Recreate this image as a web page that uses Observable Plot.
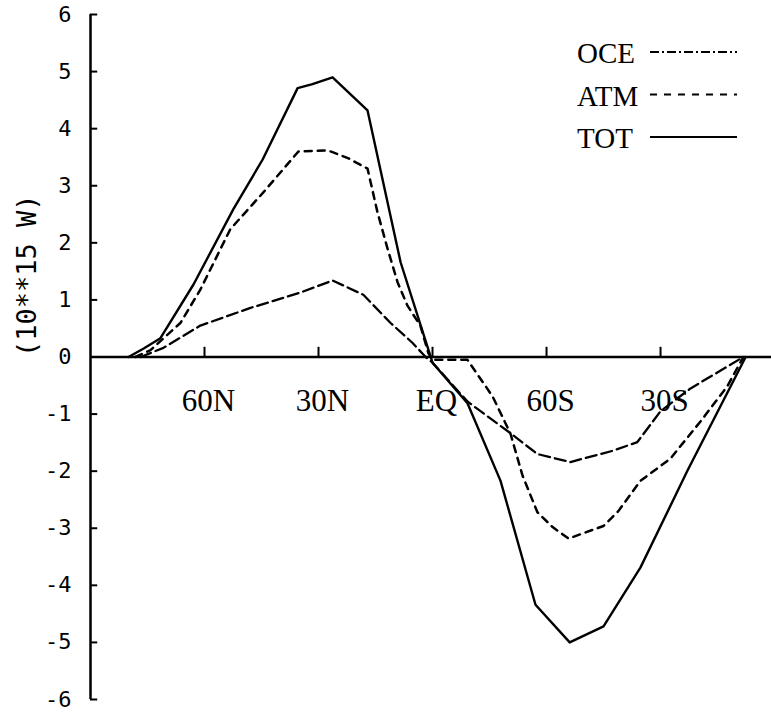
<!DOCTYPE html>
<html>
<head>
<meta charset="utf-8">
<script src="https://cdn.jsdelivr.net/npm/d3@7"></script>
<script src="https://cdn.jsdelivr.net/npm/@observablehq/plot@0.6"></script>
<style>
  html, body { margin: 0; padding: 0; background: #fff; }
  #wrap { position: relative; width: 771px; height: 715px; background: #fff; }
  #legend { position: absolute; left: 0; top: 0; }
</style>
</head>
<body>
<div id="wrap"></div>
<script>
// ---- data (latitude in degrees, + = north; values in 10**15 W) ----
const xDomain = [90, -89.2];
const xTickLats = [60, 30, 0, -30, -60];
const xTickLabels = ["60N", "30N", "EQ", "60S", "30S"];
const yTicks = [-6, -5, -4, -3, -2, -1, 0, 1, 2, 3, 4, 5, 6];
const yLabel = "(10**15 W)";

const totLat = [80.0, 76.0, 71.6, 62.9, 52.4, 44.7, 35.5, 31.6, 26.3, 17.1, 8.4, 0.0, -9.2, -17.9, -27.1, -36.1, -45.0, -54.7, -67.1, -82.4];
const totVal = [0, 0.15, 0.33, 1.27, 2.59, 3.46, 4.71, 4.78, 4.90, 4.32, 1.66, -0.1, -0.81, -2.17, -4.34, -5.0, -4.72, -3.69, -1.99, 0];

const atmLat = [78.2, 74.2, 66.3, 61.1, 53.2, 44.7, 35.3, 27.6, 22.1, 17.1, 14.5, 11.8, 9.2, 6.6, 3.2, 1.1, 0.0, -9.2, -15.8, -20.5, -23.7, -27.6, -31.6, -35.8, -45.0, -48.9, -54.7, -62.6, -70.5, -77.6, -81.8];
const atmVal = [0, 0.12, 0.6, 1.18, 2.24, 2.87, 3.6, 3.62, 3.48, 3.30, 2.54, 1.89, 1.31, 0.9, 0.55, 0.07, -0.05, -0.05, -0.69, -1.34, -2.08, -2.72, -2.98, -3.18, -2.96, -2.7, -2.17, -1.78, -1.13, -0.51, 0];

const oceLat = [76.8, 70.8, 61.1, 47.9, 34.7, 26.3, 18.2, 11.1, 5.3, 1.8, 0.0, -9.2, -20.0, -27.6, -36.3, -47.6, -53.9, -60.0, -67.9, -81.8];
const oceVal = [0, 0.16, 0.55, 0.86, 1.13, 1.34, 1.09, 0.6, 0.25, 0.0, -0.1, -0.78, -1.31, -1.7, -1.84, -1.64, -1.49, -0.95, -0.55, 0];

const legendLabels = ["OCE", "ATM", "TOT"];

// ---- build tables ----
const toRows = (lats, vals) => lats.map((lat, i) => ({lat, v: vals[i]}));
const tot = toRows(totLat, totVal);
const atm = toRows(atmLat, atmVal);
const oce = toRows(oceLat, oceVal);
const xTickRows = xTickLats.map((lat, i) => ({lat, label: xTickLabels[i]}));

const dashes = {OCE: "11,5", ATM: "7,6", TOT: null};
const legendDashes = {OCE: "9,3,2,3", ATM: "7,7", TOT: null};

const serif = "'Liberation Serif', 'DejaVu Serif', serif";
const mono = "'DejaVu Sans Mono', 'Liberation Mono', monospace";

const chart = Plot.plot({
  width: 771,
  height: 715,
  marginLeft: 90,
  marginRight: 0,
  marginTop: 14,
  marginBottom: 16,
  style: {background: "white", color: "black", overflow: "visible"},
  x: {domain: xDomain, axis: null},
  y: {domain: [-6, 6], axis: null},
  marks: [
    // left axis line with inward ticks
    Plot.ruleX([xDomain[0]], {y1: -6, y2: 6, strokeWidth: 2.5, stroke: "black"}),
    Plot.ruleY(yTicks, {x1: xDomain[0], x2: xDomain[0] - 1.9, strokeWidth: 2, stroke: "black"}),
    Plot.axisY(yTicks, {
      anchor: "left",
      tickSize: 0,
      tickPadding: 19,
      tickFormat: d => String(d),
      fontSize: 22,
      fontFamily: mono,
      label: null
    }),
    // zero line with upward ticks
    Plot.ruleY([0], {strokeWidth: 2.5, stroke: "black"}),
    Plot.ruleX(xTickRows, {x: "lat", y1: 0, y2: 0.17, strokeWidth: 2, stroke: "black"}),
    Plot.text(xTickRows, {x: "lat", y: 0, text: "label", dy: 44, dx: 4, fontSize: 31, fontFamily: serif}),
    Plot.text([yLabel], {text: d => d, frameAnchor: "left", rotate: -90, dx: -63, fontSize: 27, fontFamily: mono}),
    // series
    Plot.line(oce, {x: "lat", y: "v", stroke: "black", strokeWidth: 2.3, strokeDasharray: dashes.OCE}),
    Plot.line(atm, {x: "lat", y: "v", stroke: "black", strokeWidth: 2.5, strokeDasharray: dashes.ATM}),
    Plot.line(tot, {x: "lat", y: "v", stroke: "black", strokeWidth: 2.4})
  ]
});

const wrap = document.getElementById("wrap");
wrap.appendChild(chart);

// ---- legend (top right) ----
const leg = d3.create("svg")
  .attr("id", "legend")
  .attr("width", 771)
  .attr("height", 170);
const items = leg.selectAll("g").data(legendLabels).join("g")
  .attr("transform", (d, i) => `translate(577, ${63 + i * 42.5})`);
items.append("text")
  .attr("x", 0).attr("y", 0)
  .attr("font-family", serif)
  .attr("font-size", 29)
  .attr("fill", "black")
  .text(d => d);
items.append("line")
  .attr("x1", 73).attr("x2", 160)
  .attr("y1", -11).attr("y2", -11)
  .attr("stroke", "black")
  .attr("stroke-width", 2)
  .attr("stroke-dasharray", d => legendDashes[d]);
wrap.appendChild(leg.node());
</script>
</body>
</html>
